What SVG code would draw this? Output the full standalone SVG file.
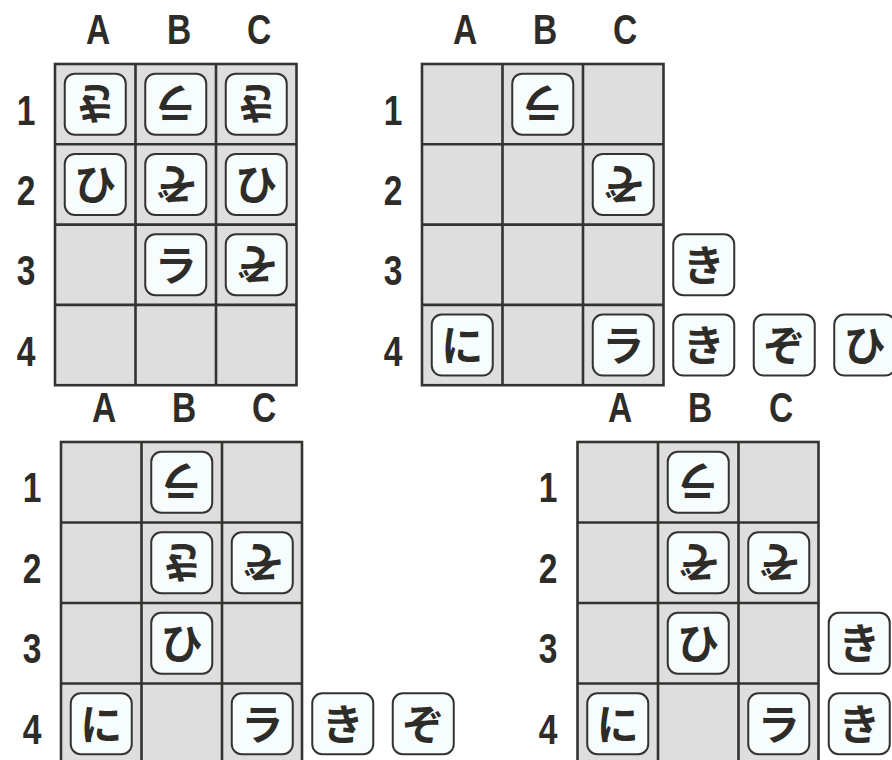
<svg xmlns="http://www.w3.org/2000/svg" width="892" height="760" viewBox="0 0 892 760">
<style>
.grid{fill:#dedede;stroke:#333330;stroke-width:2.6}
.gl{stroke:#333330;stroke-width:2.6;fill:none}
.tile{fill:#f7fcfc;stroke:#333330;stroke-width:2}
.k{font-family:"Noto Sans CJK JP","Noto Sans CJK SC",sans-serif;font-weight:bold;font-size:42px;fill:#2d2c28;text-anchor:middle}
.lbl{font-family:"Liberation Sans","DejaVu Sans",sans-serif;font-weight:bold;font-size:43px;fill:#2d2c28;text-anchor:middle}
</style>
<rect width="892" height="760" fill="#ffffff"/>

<!-- Top-left board -->
<g id="board1">
<rect class="grid" x="55" y="64" width="241.5" height="321.2"/>
<path class="gl" d="M135.5 64V385.2M216 64V385.2M55 144.3H296.5M55 224.6H296.5M55 304.9H296.5"/>
<g class="labels">
<text class="lbl" transform="translate(98,44) scale(0.78,1)">A</text>
<text class="lbl" transform="translate(179,44) scale(0.78,1)">B</text>
<text class="lbl" transform="translate(259,44) scale(0.78,1)">C</text>
<text class="lbl" transform="translate(26,125) scale(0.78,1)">1</text>
<text class="lbl" transform="translate(26,205) scale(0.78,1)">2</text>
<text class="lbl" transform="translate(26,285) scale(0.78,1)">3</text>
<text class="lbl" transform="translate(26,366) scale(0.78,1)">4</text>
</g>
</g>
<g id="b1-A1"><rect class="tile" x="64.75" y="73.65" width="61" height="61" rx="10"/><text class="k" x="95.25" y="119.95" transform="rotate(180 95.25 104.15)">き</text></g>
<g id="b1-B1"><rect class="tile" x="145.25" y="73.65" width="61" height="61" rx="10"/><text class="k" x="175.75" y="119.95" transform="rotate(180 175.75 104.15)">ラ</text></g>
<g id="b1-C1"><rect class="tile" x="225.75" y="73.65" width="61" height="61" rx="10"/><text class="k" x="256.25" y="119.95" transform="rotate(180 256.25 104.15)">き</text></g>
<g id="b1-A2"><rect class="tile" x="64.75" y="153.95" width="61" height="61" rx="10"/><text class="k" x="95.25" y="200.25">ひ</text></g>
<g id="b1-B2"><rect class="tile" x="145.25" y="153.95" width="61" height="61" rx="10"/><text class="k" x="175.75" y="200.25" transform="rotate(180 175.75 184.45)">ぞ</text></g>
<g id="b1-C2"><rect class="tile" x="225.75" y="153.95" width="61" height="61" rx="10"/><text class="k" x="256.25" y="200.25">ひ</text></g>
<g id="b1-B3"><rect class="tile" x="145.25" y="234.25" width="61" height="61" rx="10"/><text class="k" x="175.75" y="280.55">ラ</text></g>
<g id="b1-C3"><rect class="tile" x="225.75" y="234.25" width="61" height="61" rx="10"/><text class="k" x="256.25" y="280.55" transform="rotate(180 256.25 264.75)">ぞ</text></g>

<!-- Top-right board -->
<g id="board2">
<rect class="grid" x="422" y="64" width="241.5" height="321.2"/>
<path class="gl" d="M502.5 64V385.2M583 64V385.2M422 144.3H663.5M422 224.6H663.5M422 304.9H663.5"/>
<g class="labels">
<text class="lbl" transform="translate(465,44) scale(0.78,1)">A</text>
<text class="lbl" transform="translate(545,44) scale(0.78,1)">B</text>
<text class="lbl" transform="translate(625,44) scale(0.78,1)">C</text>
<text class="lbl" transform="translate(393,125) scale(0.78,1)">1</text>
<text class="lbl" transform="translate(393,205) scale(0.78,1)">2</text>
<text class="lbl" transform="translate(393,285) scale(0.78,1)">3</text>
<text class="lbl" transform="translate(393,366) scale(0.78,1)">4</text>
</g>
</g>
<g id="b2-B1"><rect class="tile" x="512.25" y="73.65" width="61" height="61" rx="10"/><text class="k" x="542.75" y="119.95" transform="rotate(180 542.75 104.15)">ラ</text></g>
<g id="b2-C2"><rect class="tile" x="592.75" y="153.95" width="61" height="61" rx="10"/><text class="k" x="623.25" y="200.25" transform="rotate(180 623.25 184.45)">ぞ</text></g>
<g id="b2-D3"><rect class="tile" x="673.25" y="234.25" width="61" height="61" rx="10"/><text class="k" x="703.75" y="280.55">き</text></g>
<g id="b2-A4"><rect class="tile" x="431.75" y="314.55" width="61" height="61" rx="10"/><text class="k" x="462.25" y="360.85">に</text></g>
<g id="b2-C4"><rect class="tile" x="592.75" y="314.55" width="61" height="61" rx="10"/><text class="k" x="623.25" y="360.85">ラ</text></g>
<g id="b2-D4"><rect class="tile" x="673.25" y="314.55" width="61" height="61" rx="10"/><text class="k" x="703.75" y="360.85">き</text></g>
<g id="b2-E4"><rect class="tile" x="753.75" y="314.55" width="61" height="61" rx="10"/><text class="k" x="784.25" y="360.85">ぞ</text></g>
<g id="b2-F4"><rect class="tile" x="834.25" y="314.55" width="61" height="61" rx="10"/><text class="k" x="864.75" y="360.85">ひ</text></g>

<!-- Bottom-left board -->
<g id="board3">
<rect class="grid" x="61" y="442" width="241" height="322"/>
<path class="gl" d="M141.5 442V764M222 442V764M61 522.5H302M61 603H302M61 683.5H302"/>
<g class="labels">
<text class="lbl" transform="translate(104,422) scale(0.78,1)">A</text>
<text class="lbl" transform="translate(184,422) scale(0.78,1)">B</text>
<text class="lbl" transform="translate(264,422) scale(0.78,1)">C</text>
<text class="lbl" transform="translate(32,502) scale(0.78,1)">1</text>
<text class="lbl" transform="translate(32,583) scale(0.78,1)">2</text>
<text class="lbl" transform="translate(32,663) scale(0.78,1)">3</text>
<text class="lbl" transform="translate(32,744) scale(0.78,1)">4</text>
</g>
</g>
<g id="b3-B1"><rect class="tile" x="151.25" y="451.75" width="61" height="61" rx="10"/><text class="k" x="181.75" y="498.05" transform="rotate(180 181.75 482.25)">ラ</text></g>
<g id="b3-B2"><rect class="tile" x="151.25" y="532.25" width="61" height="61" rx="10"/><text class="k" x="181.75" y="578.55" transform="rotate(180 181.75 562.75)">き</text></g>
<g id="b3-C2"><rect class="tile" x="231.75" y="532.25" width="61" height="61" rx="10"/><text class="k" x="262.25" y="578.55" transform="rotate(180 262.25 562.75)">ぞ</text></g>
<g id="b3-B3"><rect class="tile" x="151.25" y="612.75" width="61" height="61" rx="10"/><text class="k" x="181.75" y="659.05">ひ</text></g>
<g id="b3-A4"><rect class="tile" x="70.75" y="693.25" width="61" height="61" rx="10"/><text class="k" x="101.25" y="739.55">に</text></g>
<g id="b3-C4"><rect class="tile" x="231.75" y="693.25" width="61" height="61" rx="10"/><text class="k" x="262.25" y="739.55">ラ</text></g>
<g id="b3-D4"><rect class="tile" x="312.25" y="693.25" width="61" height="61" rx="10"/><text class="k" x="342.75" y="739.55">き</text></g>
<g id="b3-E4"><rect class="tile" x="392.75" y="693.25" width="61" height="61" rx="10"/><text class="k" x="423.25" y="739.55">ぞ</text></g>

<!-- Bottom-right board -->
<g id="board4">
<rect class="grid" x="577.5" y="442" width="241" height="322"/>
<path class="gl" d="M658 442V764M738.5 442V764M577.5 522.5H818.5M577.5 603H818.5M577.5 683.5H818.5"/>
<g class="labels">
<text class="lbl" transform="translate(620,422) scale(0.78,1)">A</text>
<text class="lbl" transform="translate(700,422) scale(0.78,1)">B</text>
<text class="lbl" transform="translate(781,422) scale(0.78,1)">C</text>
<text class="lbl" transform="translate(548,502) scale(0.78,1)">1</text>
<text class="lbl" transform="translate(548,583) scale(0.78,1)">2</text>
<text class="lbl" transform="translate(548,663) scale(0.78,1)">3</text>
<text class="lbl" transform="translate(548,744) scale(0.78,1)">4</text>
</g>
</g>
<g id="b4-B1"><rect class="tile" x="667.75" y="451.75" width="61" height="61" rx="10"/><text class="k" x="698.25" y="498.05" transform="rotate(180 698.25 482.25)">ラ</text></g>
<g id="b4-B2"><rect class="tile" x="667.75" y="532.25" width="61" height="61" rx="10"/><text class="k" x="698.25" y="578.55" transform="rotate(180 698.25 562.75)">ぞ</text></g>
<g id="b4-C2"><rect class="tile" x="748.25" y="532.25" width="61" height="61" rx="10"/><text class="k" x="778.75" y="578.55" transform="rotate(180 778.75 562.75)">ぞ</text></g>
<g id="b4-B3"><rect class="tile" x="667.75" y="612.75" width="61" height="61" rx="10"/><text class="k" x="698.25" y="659.05">ひ</text></g>
<g id="b4-D3"><rect class="tile" x="828.75" y="612.75" width="61" height="61" rx="10"/><text class="k" x="859.25" y="659.05">き</text></g>
<g id="b4-A4"><rect class="tile" x="587.25" y="693.25" width="61" height="61" rx="10"/><text class="k" x="617.75" y="739.55">に</text></g>
<g id="b4-C4"><rect class="tile" x="748.25" y="693.25" width="61" height="61" rx="10"/><text class="k" x="778.75" y="739.55">ラ</text></g>
<g id="b4-D4"><rect class="tile" x="828.75" y="693.25" width="61" height="61" rx="10"/><text class="k" x="859.25" y="739.55">き</text></g>
<g id="connectors"/>
</svg>
